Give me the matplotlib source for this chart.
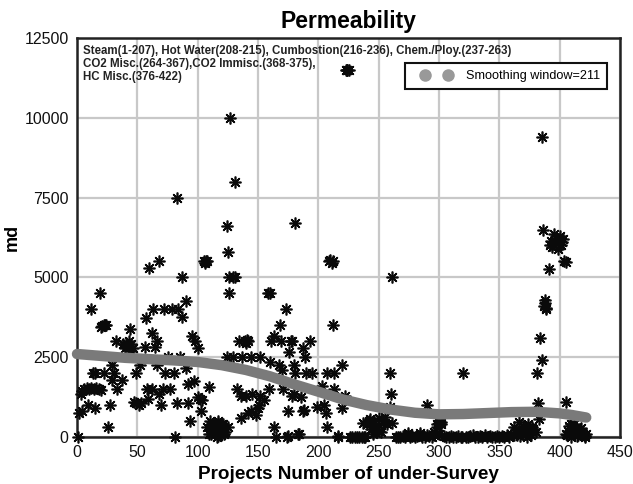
"""
plot.py - Permeability of surveyed projects with smoothing curve.
"""
import matplotlib
matplotlib.use("Agg")
import matplotlib.pyplot as plt
from matplotlib.legend_handler import HandlerLine2D
from matplotlib.lines import Line2D

plt.rcParams["font.family"] = ["Liberation Sans", "DejaVu Sans"]

# steam projects
steam_x = [127, 131, 83, 124, 125, 181, 105, 106, 107, 108, 126, 129, 131, 87, 68, 60, 126, 158, 19, 12,
           22, 23, 21, 24, 20, 32, 38, 40, 41, 42, 43, 44, 45, 46, 44, 57, 63, 72, 79, 84, 90, 87,
           62, 66, 65, 56, 95, 98, 100, 124, 134, 160, 173, 168, 163, 161, 169, 177, 176, 139, 140, 141, 142,
           129, 137, 144, 152, 160, 167, 180, 181, 170, 75, 85, 52, 66, 90, 49, 73, 80, 13, 15, 22, 29, 31, 37, 29, 33,
           4, 6, 8, 10, 12, 14, 16, 18, 20, 3, 9, 15, 2, 4, 27, 26, 1, 81, 94, 103, 109, 92, 97, 102, 100, 104, 92, 83,
           70, 77, 71, 68, 58, 62, 59, 47, 51, 53, 49, 133, 136, 145, 140, 152, 159, 155, 151, 144, 136, 148, 142, 150,
           171, 178, 175, 188, 163, 165, 174, 175, 183, 108, 110, 112, 113, 114, 115, 116, 117, 118, 119, 120, 121, 122,
           111, 113, 115, 117, 119, 121, 123, 109, 112, 116, 118, 120, 125, 117, 114, 116, 119, 187, 193, 178, 189, 186, 180, 187, 190, 195, 199, 203, 206, 207, 184, 205]
steam_y = [10000, 8000, 7500, 6600, 5800, 6700, 5500, 5450, 5500, 5500, 5000, 5000, 5000, 5000, 5500, 5300, 4500, 4500, 4500, 4000,
           3500, 3500, 3480, 3500, 3450, 3000, 2900, 2800, 2950, 2850, 3000, 2700, 2900, 2800, 3370, 3720, 4000, 4000, 4000, 4000, 4260, 3750,
           3250, 3000, 2820, 2820, 3160, 3000, 2800, 2500, 3000, 4500, 4000, 3500, 3150, 3000, 3000, 3000, 2660, 3000, 2950, 3050, 3000,
           2500, 2500, 2500, 2500, 2350, 2250, 2250, 2000, 2100, 2500, 2500, 2250, 2250, 2150, 2000, 2000, 2000, 2000, 2000, 2000, 2250, 2000, 1800, 1800, 1500,
           1450, 1500, 1520, 1500, 1550, 1500, 1520, 1500, 1480, 1350, 1000, 900, 760, 800, 1000, 300, 0, 0, 490, 800, 1560, 1650, 1770, 1200, 1250, 1150, 1050, 1080,
           1000, 1500, 1500, 1350, 1500, 1500, 1200, 1100, 1000, 1050, 1050, 1500, 1270, 1350, 1300, 1300, 1500, 1150, 1000, 800, 600, 700, 750, 900,
           1500, 1300, 800, 850, 300, 0, 0, 30, 100, 300, 500, 200, 400, 100, 350, 250, 450, 150, 300, 200, 400, 100,
           80, 420, 280, 30, 180, 320, 150, 100, 350, 0, 250, 400, 300, 500, 200, 120, 60, 2800, 3000, 3000, 2500, 1250, 1350, 800, 2000, 2000, 950, 1600, 750, 300, 100, 1000]

# hot water, combustion and chemical projects
mid_x = [224, 223, 224, 225, 209, 210, 211, 212, 212, 220, 207, 213, 213, 222, 220, 216, 216, 226, 228, 230, 232, 234, 236, 238, 239,
         237, 240, 243, 246, 250, 254, 257, 261, 261, 259, 260, 259, 250, 248, 245, 252, 242, 244, 247, 255]
mid_y = [11500, 11490, 11510, 11500, 5500, 5550, 5450, 5500, 3500, 2250, 2000, 2000, 1500, 1300, 900, 0, 30, 0, 0, 0, 0, 0, 0, 0, 0,
         450, 400, 550, 500, 600, 450, 400, 450, 5000, 2000, 1350, 950, 200, 300, 100, 150, 500, 250, 350, 620]

# CO2 projects, mostly sitting on the axis
co2_x = [264, 266, 268, 270, 272, 274, 276, 278, 280, 282, 284, 286, 288, 290, 292, 294, 296, 298, 300, 302, 304, 306, 308, 310,
         312, 314, 316, 318, 320, 322, 324, 326, 328, 330, 332, 334, 336, 338, 340, 342, 344, 346, 348, 350, 352, 354, 356, 358,
         360, 362, 364, 366, 274, 284, 290, 296, 300, 298, 302, 319, 362, 366, 368, 370, 372, 374, 376, 378, 380, 365, 369, 373, 377, 367, 371, 375]
co2_y = [0, 10, 0, 20, 0, 60, 0, 30, 0, 20, 60, 0, 10, 1000, 30, 0, 150, 400, 450, 480, 30, 10, 0, 20,
         0, 10, 30, 0, 2000, 10, 0, 20, 60, 0, 10, 30, 0, 50, 0, 20, 0, 10, 40, 0, 30, 0, 60, 10,
         100, 50, 150, 200, 120, 130, 50, 60, 80, 300, 420, 0, 300, 480, 200, 350, 100, 400, 60, 250, 150, 50, 100, 0, 300, 30, 280, 180]

# hydrocarbon projects
hc_x = [385, 386, 400, 395, 398, 392, 396, 401, 403, 399, 394, 397, 402, 393, 391, 404, 405, 388, 387, 389, 388, 389, 384, 385, 381, 382, 383, 405,
        405, 407, 409, 411, 413, 415, 417, 419, 421, 408, 410, 412, 414, 416, 418, 420, 422, 406, 411, 416, 421, 409]
hc_y = [9400, 6500, 6300, 6350, 6200, 6000, 6100, 6000, 6200, 5900, 5950, 6250, 6100, 6150, 5250, 5500, 5480, 4300, 4100, 4000, 4200, 4050, 3100, 2400, 2000, 1050, 550, 1100,
        100, 200, 0, 300, 150, 50, 250, 100, 0, 350, 120, 400, 30, 200, 280, 60, 100, 50, 230, 130, 30, 400]

# smoothing curve (window 211)
smooth_x = [0, 20, 40, 60, 80, 100, 120, 140, 160, 180, 200, 220, 240, 260, 280, 300, 320, 340, 360, 380, 400, 410, 422]
smooth_y = [2600, 2540, 2480, 2440, 2400, 2350, 2250, 2100, 1900, 1650, 1420, 1180, 1000, 860, 760, 710, 720, 750, 780, 790, 740, 690, 610]

x_ticks = [0, 50, 100, 150, 200, 250, 300, 350, 400, 450]
y_ticks = [0, 2500, 5000, 7500, 10000, 12500]

fig = plt.figure(figsize=(6.33, 4.84), dpi=100)
ax = fig.add_axes([77 / 633, 1 - 437 / 484, 543 / 633, 399 / 484])

ax.grid(True, color="#c8c8c8", linewidth=1.6)
ax.set_axisbelow(True)

all_x = steam_x + mid_x + co2_x + hc_x
all_y = steam_y + mid_y + co2_y + hc_y
ax.plot(all_x, all_y, linestyle="none", marker=(8, 2, 0), markersize=8.5,
        markeredgewidth=1.2, color="#0a0a0a", clip_on=False, zorder=3)
ax.plot(smooth_x, smooth_y, color="#7a7a7a", linewidth=7.5, solid_capstyle="round",
        solid_joinstyle="round", clip_on=False, zorder=4)

ax.set_xlim(0, 450)
ax.set_ylim(0, 12500)
ax.set_xticks(x_ticks)
ax.set_yticks(y_ticks)
ax.tick_params(length=0, labelsize=11.5, pad=6, colors="#111111")
for side in ax.spines.values():
    side.set_linewidth(1.8)
    side.set_color("#222222")

ax.set_title("Permeability", fontsize=16.5, fontweight="bold", pad=7)
ax.set_xlabel("Projects Number of under-Survey", fontsize=13.6, fontweight="bold", labelpad=4)
ax.yaxis.set_label_coords(-56 / 543, 0.5)
ax.set_ylabel("md", fontsize=13, fontweight="bold")

ax.text(0.011, 0.983, "Steam(1-207), Hot Water(208-215), Cumbostion(216-236), Chem./Ploy.(237-263)\n"
        "CO2 Misc.(264-367),CO2 Immisc.(368-375),\nHC Misc.(376-422)",
        transform=ax.transAxes, va="top", ha="left", fontsize=8.3, fontweight="bold",
        color="#222222", linespacing=1.1, zorder=5)

handle = Line2D([], [], linestyle="none", marker="o", markersize=8, color="#999999")
leg = ax.legend([handle], ["Smoothing window=211"], loc="upper right",
                handler_map={Line2D: HandlerLine2D(marker_pad=1.03, numpoints=2)},
                bbox_to_anchor=(530 / 543, 374 / 399), borderaxespad=0, fontsize=9.1,
                fancybox=False, framealpha=1, edgecolor="#111111", borderpad=0.55,
                handlelength=3.9, handletextpad=0.4)
leg.get_frame().set_linewidth(1.5)
leg.set_zorder(6)

fig.savefig("out.png", dpi=100)
plt.close(fig)
